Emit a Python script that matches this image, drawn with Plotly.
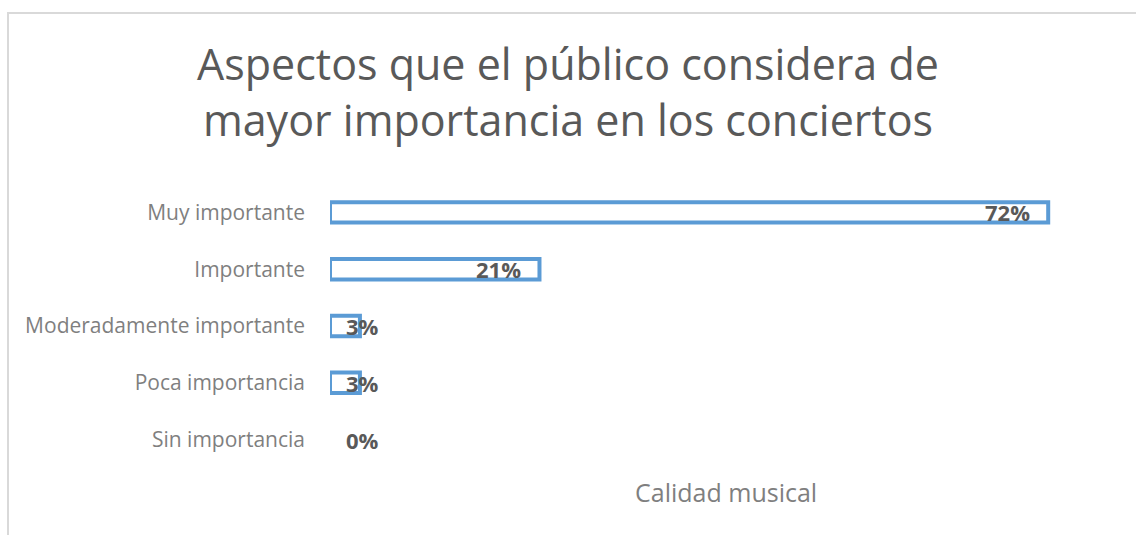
import plotly.graph_objects as go

categories = ["Muy importante", "Importante", "Moderadamente importante", "Poca importancia", "Sin importancia"]
values = [0.72, 0.21, 0.03, 0.03, 0.00]
labels = ["72%", "21%", "3%", "3%", "0%"]
series_name = "Calidad musical"
title_text = "Aspectos que el público considera de<br>mayor importancia en los conciertos"

W, H = 1136, 535
ML, MR, MT, MB = 330, 8, 184, 67
PW, PH = W - ML - MR, H - MT - MB

fig = go.Figure()
fig.add_trace(go.Bar(
    y=categories, x=values, orientation="h", name=series_name,
    marker=dict(color="white",
                line=dict(color="#5b9bd5", width=[4 if v > 0 else 0 for v in values])),
    hoverinfo="skip", showlegend=False,
))

label_font = dict(family="Open Sans", size=22, color="#595959", weight="bold")
annotations = []
for cat, v, lab in zip(categories, values, labels):
    if v >= 0.1:
        annotations.append(dict(x=v, y=cat, xref="x", yref="y", text=lab, showarrow=False,
                                xanchor="right", xshift=-16, font=label_font))
    else:
        annotations.append(dict(x=0, y=cat, xref="x", yref="y", text=lab, showarrow=False,
                                xanchor="left", xshift=14, font=label_font))


def px_x(p):
    return (p - ML) / PW


def px_y(p):
    return (MT + PH - p) / PH


annotations.append(dict(x=px_x(726), xref="paper", y=px_y(492), yref="paper",
                        yanchor="middle", xanchor="center", text=series_name, showarrow=False,
                        font=dict(family="Open Sans", size=25, color="#7f7f7f")))

fig.update_layout(
    width=W, height=H,
    margin=dict(l=ML, r=MR, t=MT, b=MB),
    paper_bgcolor="white", plot_bgcolor="white",
    title=dict(text=title_text, x=px_x(568), xref="paper", xanchor="center",
               y=1 - 80 / H, yref="container", yanchor="top",
               font=dict(family="Open Sans", size=43, color="#595959")),
    xaxis=dict(range=[0, PW / 997.5], visible=False, fixedrange=True),
    yaxis=dict(autorange="reversed", showgrid=False, showline=False, zeroline=False,
               ticks="", ticklabelstandoff=24,
               tickfont=dict(family="Open Sans", size=21, color="#7f7f7f")),
    bargap=0.64,
    annotations=annotations,
    shapes=[dict(type="rect", xref="paper", yref="paper",
                 x0=px_x(8), x1=px_x(1150), y0=px_y(560), y1=px_y(13),
                 line=dict(color="#d9d9d9", width=2), fillcolor="rgba(0,0,0,0)", layer="below")],
)

fig.write_html("out.html")
